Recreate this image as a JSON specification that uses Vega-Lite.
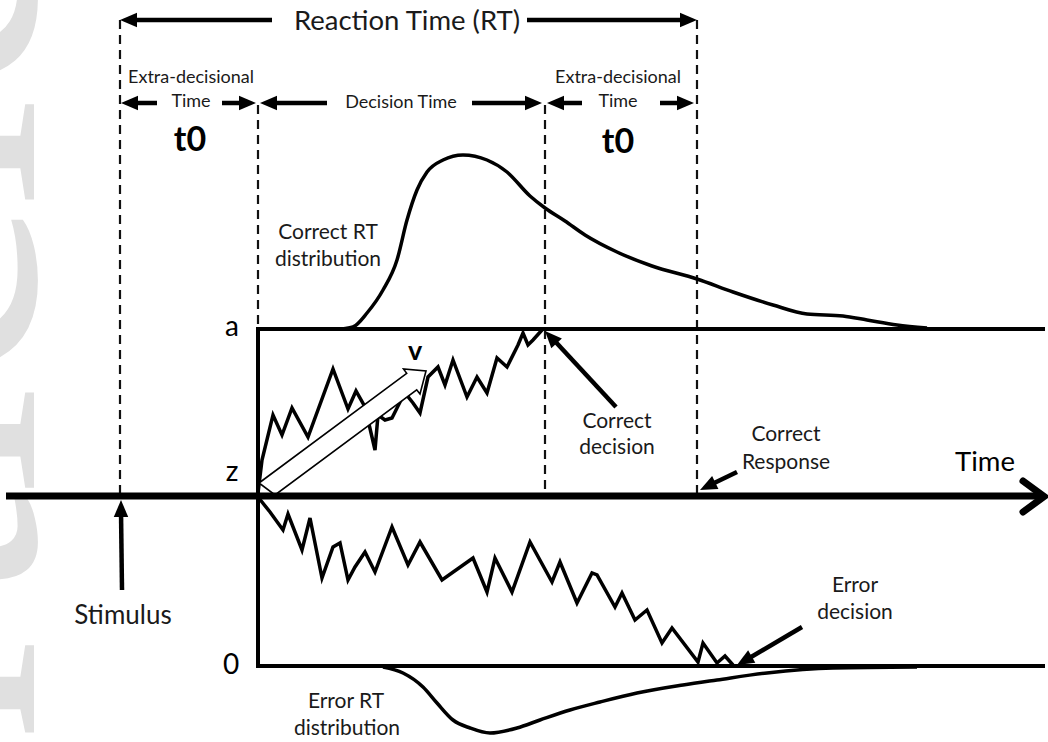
{
  "$schema": "https://vega.github.io/schema/vega-lite/v6.json",
  "width": 1048,
  "height": 742,
  "padding": 0,
  "autosize": "none",
  "background": "white",
  "config": {"view": {"stroke": null}},
  "datasets": {
    "watermark": [{"text": "Article", "x": 34, "y": 474}],
    "dashes": [
      {"x": 120, "y": 20, "y2": 496},
      {"x": 258, "y": 105, "y2": 329},
      {"x": 545, "y": 105, "y2": 496},
      {"x": 697, "y": 20, "y2": 496}
    ],
    "bounds": [
      {"x": 256, "y": 329, "x2": 1045, "y2": 329},
      {"x": 258, "y": 329, "x2": 258, "y2": 666},
      {"x": 256, "y": 666, "x2": 1045, "y2": 666}
    ],
    "timeAxis": [{"x": 6, "y": 496, "x2": 1042, "y2": 496}],
    "timeHead": [
      {"i": 1, "x": 1023, "y": 481},
      {"i": 2, "x": 1044, "y": 496.5},
      {"i": 3, "x": 1023, "y": 512}
    ],
    "correctRT": [
      {"i": 1, "x": 342, "y": 329}, {"i": 2, "x": 353, "y": 327}, {"i": 3, "x": 367, "y": 313},
      {"i": 4, "x": 383, "y": 290}, {"i": 5, "x": 397, "y": 260}, {"i": 6, "x": 407, "y": 220},
      {"i": 7, "x": 417, "y": 190}, {"i": 8, "x": 427, "y": 172}, {"i": 9, "x": 443, "y": 160},
      {"i": 10, "x": 463, "y": 155}, {"i": 11, "x": 487, "y": 160}, {"i": 12, "x": 507, "y": 172},
      {"i": 13, "x": 530, "y": 196}, {"i": 14, "x": 545, "y": 208}, {"i": 15, "x": 565, "y": 221},
      {"i": 16, "x": 585, "y": 235}, {"i": 17, "x": 617, "y": 252}, {"i": 18, "x": 652, "y": 266},
      {"i": 19, "x": 697, "y": 279}, {"i": 20, "x": 733, "y": 292}, {"i": 21, "x": 773, "y": 305},
      {"i": 22, "x": 807, "y": 314}, {"i": 23, "x": 843, "y": 316}, {"i": 24, "x": 867, "y": 320},
      {"i": 25, "x": 897, "y": 325}, {"i": 26, "x": 927, "y": 328}
    ],
    "errorRT": [
      {"i": 1, "x": 383, "y": 667}, {"i": 2, "x": 403, "y": 673}, {"i": 3, "x": 423, "y": 687},
      {"i": 4, "x": 437, "y": 703}, {"i": 5, "x": 453, "y": 720}, {"i": 6, "x": 470, "y": 728},
      {"i": 7, "x": 490, "y": 733}, {"i": 8, "x": 517, "y": 728}, {"i": 9, "x": 540, "y": 720},
      {"i": 10, "x": 570, "y": 710}, {"i": 11, "x": 600, "y": 702}, {"i": 12, "x": 637, "y": 693},
      {"i": 13, "x": 683, "y": 685}, {"i": 14, "x": 717, "y": 680}, {"i": 15, "x": 767, "y": 673},
      {"i": 16, "x": 833, "y": 668}, {"i": 17, "x": 917, "y": 667}
    ],
    "upperWalk": [
      {"i": 1, "x": 258, "y": 493}, {"i": 2, "x": 262, "y": 460}, {"i": 3, "x": 273, "y": 415},
      {"i": 4, "x": 282, "y": 435}, {"i": 5, "x": 292, "y": 408}, {"i": 6, "x": 308, "y": 437},
      {"i": 7, "x": 333, "y": 369}, {"i": 8, "x": 348, "y": 409}, {"i": 9, "x": 356, "y": 391},
      {"i": 10, "x": 365, "y": 407}, {"i": 11, "x": 375, "y": 450}, {"i": 12, "x": 378, "y": 415},
      {"i": 13, "x": 385, "y": 420}, {"i": 14, "x": 392, "y": 418}, {"i": 15, "x": 400, "y": 402},
      {"i": 16, "x": 405, "y": 393}, {"i": 17, "x": 413, "y": 403}, {"i": 18, "x": 420, "y": 413},
      {"i": 19, "x": 428, "y": 377}, {"i": 20, "x": 438, "y": 367}, {"i": 21, "x": 445, "y": 385},
      {"i": 22, "x": 453, "y": 360}, {"i": 23, "x": 467, "y": 397}, {"i": 24, "x": 477, "y": 377},
      {"i": 25, "x": 487, "y": 393}, {"i": 26, "x": 497, "y": 358}, {"i": 27, "x": 507, "y": 367},
      {"i": 28, "x": 518, "y": 345}, {"i": 29, "x": 523, "y": 333}, {"i": 30, "x": 528, "y": 345},
      {"i": 31, "x": 533, "y": 340}, {"i": 32, "x": 542, "y": 330}
    ],
    "lowerWalk": [
      {"i": 1, "x": 258, "y": 497}, {"i": 2, "x": 270, "y": 512}, {"i": 3, "x": 283, "y": 530},
      {"i": 4, "x": 288, "y": 514}, {"i": 5, "x": 302, "y": 550}, {"i": 6, "x": 310, "y": 518},
      {"i": 7, "x": 322, "y": 578}, {"i": 8, "x": 333, "y": 547}, {"i": 9, "x": 340, "y": 543},
      {"i": 10, "x": 348, "y": 580}, {"i": 11, "x": 355, "y": 567}, {"i": 12, "x": 365, "y": 552},
      {"i": 13, "x": 375, "y": 572}, {"i": 14, "x": 392, "y": 527}, {"i": 15, "x": 408, "y": 565},
      {"i": 16, "x": 420, "y": 542}, {"i": 17, "x": 442, "y": 580}, {"i": 18, "x": 473, "y": 558},
      {"i": 19, "x": 487, "y": 592}, {"i": 20, "x": 495, "y": 558}, {"i": 21, "x": 512, "y": 592},
      {"i": 22, "x": 530, "y": 542}, {"i": 23, "x": 552, "y": 582}, {"i": 24, "x": 560, "y": 562},
      {"i": 25, "x": 577, "y": 603}, {"i": 26, "x": 592, "y": 573}, {"i": 27, "x": 597, "y": 575},
      {"i": 28, "x": 615, "y": 607}, {"i": 29, "x": 622, "y": 593}, {"i": 30, "x": 635, "y": 620},
      {"i": 31, "x": 647, "y": 610}, {"i": 32, "x": 662, "y": 643}, {"i": 33, "x": 672, "y": 628},
      {"i": 34, "x": 698, "y": 662}, {"i": 35, "x": 703, "y": 643}, {"i": 36, "x": 717, "y": 663},
      {"i": 37, "x": 725, "y": 656}, {"i": 38, "x": 733, "y": 665}
    ],
    "drift": [
      {"i": 1, "x": 259, "y": 483}, {"i": 2, "x": 406.7, "y": 373.4}, {"i": 3, "x": 403.5, "y": 369},
      {"i": 4, "x": 426, "y": 371}, {"i": 5, "x": 420, "y": 394}, {"i": 6, "x": 416.7, "y": 389.8},
      {"i": 7, "x": 275, "y": 495}
    ],
    "shafts": [
      {"x": 272, "y": 20, "x2": 132, "y2": 20},
      {"x": 527, "y": 20, "x2": 685, "y2": 20},
      {"x": 157, "y": 103, "x2": 131, "y2": 103},
      {"x": 222, "y": 103, "x2": 246, "y2": 103},
      {"x": 327, "y": 103, "x2": 270, "y2": 103},
      {"x": 472, "y": 103, "x2": 532, "y2": 103},
      {"x": 582, "y": 103, "x2": 557, "y2": 103},
      {"x": 660, "y": 103, "x2": 684, "y2": 103},
      {"x": 616, "y": 407, "x2": 552, "y2": 338},
      {"x": 737, "y": 472, "x2": 709, "y2": 485.6},
      {"x": 122, "y": 590, "x2": 121, "y2": 511},
      {"x": 802, "y": 627, "x2": 746, "y2": 660}
    ],
    "heads": [
      {"x": 120, "y": 20, "angle": 180},
      {"x": 697, "y": 20, "angle": 0},
      {"x": 121, "y": 103, "angle": 180},
      {"x": 256, "y": 103, "angle": 0},
      {"x": 260, "y": 103, "angle": 180},
      {"x": 542, "y": 103, "angle": 0},
      {"x": 547, "y": 103, "angle": 180},
      {"x": 694, "y": 103, "angle": 0},
      {"x": 545, "y": 331, "angle": 227},
      {"x": 700, "y": 490, "angle": 154},
      {"x": 121, "y": 500, "angle": 270},
      {"x": 737, "y": 665, "angle": 150}
    ],
    "labels": [
      {"text": "Reaction Time (RT)", "x": 407, "y": 22, "role": "title"},
      {"text": "Extra-decisional", "x": 191, "y": 78, "role": "period"},
      {"text": "Time", "x": 191, "y": 102, "role": "period"},
      {"text": "Decision Time", "x": 401, "y": 103, "role": "period"},
      {"text": "Extra-decisional", "x": 618, "y": 78, "role": "period"},
      {"text": "Time", "x": 618, "y": 102, "role": "period"},
      {"text": "t0", "x": 190, "y": 141, "role": "param"},
      {"text": "t0", "x": 618, "y": 143, "role": "param"},
      {"text": "Correct RT", "x": 328, "y": 233, "role": "note"},
      {"text": "distribution", "x": 328, "y": 260, "role": "note"},
      {"text": "a", "x": 232, "y": 328, "role": "boundary"},
      {"text": "z", "x": 232, "y": 473, "role": "boundary"},
      {"text": "0", "x": 231, "y": 666, "role": "boundary"},
      {"text": "v", "x": 415, "y": 352, "role": "drift"},
      {"text": "Correct", "x": 617, "y": 422, "role": "note"},
      {"text": "decision", "x": 617, "y": 448, "role": "note"},
      {"text": "Correct", "x": 786, "y": 435, "role": "note"},
      {"text": "Response", "x": 786, "y": 463, "role": "note"},
      {"text": "Time", "x": 985, "y": 463, "role": "axis"},
      {"text": "Stimulus", "x": 123, "y": 616, "role": "stimulus"},
      {"text": "Error", "x": 855, "y": 586, "role": "note"},
      {"text": "decision", "x": 855, "y": 613, "role": "note"},
      {"text": "Error RT", "x": 346, "y": 702, "role": "note"},
      {"text": "distribution", "x": 347, "y": 729, "role": "note"}
    ]
  },
  "encoding": {
    "x": {"field": "x", "type": "quantitative", "scale": {"domain": [0, 1048], "nice": false, "zero": false}, "axis": null},
    "y": {"field": "y", "type": "quantitative", "scale": {"domain": [0, 742], "nice": false, "zero": false, "reverse": true}, "axis": null}
  },
  "layer": [
    {
      "data": {"name": "watermark"},
      "mark": {"type": "text", "font": "Liberation Serif", "fontSize": 400, "angle": 270, "align": "center", "baseline": "alphabetic", "color": "#e0e0e0"},
      "encoding": {"text": {"field": "text"}}
    },
    {
      "data": {"name": "dashes"},
      "mark": {"type": "rule", "strokeDash": [9, 6], "strokeWidth": 2.2, "color": "#111"},
      "encoding": {"y2": {"field": "y2"}}
    },
    {
      "data": {"name": "correctRT"},
      "mark": {"type": "line", "interpolate": "monotone", "strokeWidth": 3.5, "color": "#000"},
      "encoding": {"order": {"field": "i"}}
    },
    {
      "data": {"name": "errorRT"},
      "mark": {"type": "line", "interpolate": "monotone", "strokeWidth": 3.5, "color": "#000"},
      "encoding": {"order": {"field": "i"}}
    },
    {
      "data": {"name": "upperWalk"},
      "mark": {"type": "line", "strokeWidth": 3.5, "strokeJoin": "miter", "strokeMiterLimit": 4, "color": "#000"},
      "encoding": {"order": {"field": "i"}}
    },
    {
      "data": {"name": "lowerWalk"},
      "mark": {"type": "line", "strokeWidth": 3.5, "strokeJoin": "miter", "strokeMiterLimit": 4, "color": "#000"},
      "encoding": {"order": {"field": "i"}}
    },
    {
      "data": {"name": "drift"},
      "mark": {"type": "line", "interpolate": "linear-closed", "fill": "white", "stroke": "#000", "strokeWidth": 1.6, "strokeJoin": "miter"},
      "encoding": {"order": {"field": "i"}}
    },
    {
      "data": {"name": "bounds"},
      "mark": {"type": "rule", "strokeWidth": 4, "color": "#000"},
      "encoding": {"x2": {"field": "x2"}, "y2": {"field": "y2"}}
    },
    {
      "data": {"name": "timeAxis"},
      "mark": {"type": "rule", "strokeWidth": 7, "color": "#000"},
      "encoding": {"x2": {"field": "x2"}, "y2": {"field": "y2"}}
    },
    {
      "data": {"name": "timeHead"},
      "mark": {"type": "line", "strokeWidth": 7, "strokeCap": "round", "strokeJoin": "miter", "color": "#000"},
      "encoding": {"order": {"field": "i"}}
    },
    {
      "data": {"name": "shafts"},
      "mark": {"type": "rule", "strokeWidth": 4.5, "color": "#000"},
      "encoding": {"x2": {"field": "x2"}, "y2": {"field": "y2"}}
    },
    {
      "data": {"name": "heads"},
      "mark": {"type": "point", "shape": "M0,0L-2,-0.85L-2,0.85Z", "size": 289, "filled": true, "color": "#000", "opacity": 1, "strokeWidth": 0},
      "encoding": {"angle": {"field": "angle", "type": "quantitative", "scale": null}}
    },
    {
      "data": {"name": "labels"},
      "transform": [{"filter": "datum.role === 'title'"}],
      "mark": {"type": "text", "font": "Lato", "fontSize": 27.5, "align": "center", "baseline": "middle", "color": "#1a1a1a"},
      "encoding": {"text": {"field": "text"}}
    },
    {
      "data": {"name": "labels"},
      "transform": [{"filter": "datum.role === 'period'"}],
      "mark": {"type": "text", "font": "Lato", "fontSize": 18, "align": "center", "baseline": "middle", "color": "#1a1a1a"},
      "encoding": {"text": {"field": "text"}}
    },
    {
      "data": {"name": "labels"},
      "transform": [{"filter": "datum.role === 'param'"}],
      "mark": {"type": "text", "font": "Lato", "fontSize": 34, "fontWeight": "bold", "align": "center", "baseline": "middle", "color": "#000"},
      "encoding": {"text": {"field": "text"}}
    },
    {
      "data": {"name": "labels"},
      "transform": [{"filter": "datum.role === 'note'"}],
      "mark": {"type": "text", "font": "Lato", "fontSize": 21, "align": "center", "baseline": "middle", "color": "#1a1a1a"},
      "encoding": {"text": {"field": "text"}}
    },
    {
      "data": {"name": "labels"},
      "transform": [{"filter": "datum.role === 'boundary'"}],
      "mark": {"type": "text", "font": "Lato", "fontSize": 28, "align": "center", "baseline": "middle", "color": "#000"},
      "encoding": {"text": {"field": "text"}}
    },
    {
      "data": {"name": "labels"},
      "transform": [{"filter": "datum.role === 'drift'"}],
      "mark": {"type": "text", "font": "Lato", "fontSize": 27, "fontWeight": "bold", "align": "center", "baseline": "middle", "color": "#000"},
      "encoding": {"text": {"field": "text"}}
    },
    {
      "data": {"name": "labels"},
      "transform": [{"filter": "datum.role === 'axis'"}],
      "mark": {"type": "text", "font": "Lato", "fontSize": 27.5, "align": "center", "baseline": "middle", "color": "#000"},
      "encoding": {"text": {"field": "text"}}
    },
    {
      "data": {"name": "labels"},
      "transform": [{"filter": "datum.role === 'stimulus'"}],
      "mark": {"type": "text", "font": "Lato", "fontSize": 26, "align": "center", "baseline": "middle", "color": "#1a1a1a"},
      "encoding": {"text": {"field": "text"}}
    }
  ]
}
